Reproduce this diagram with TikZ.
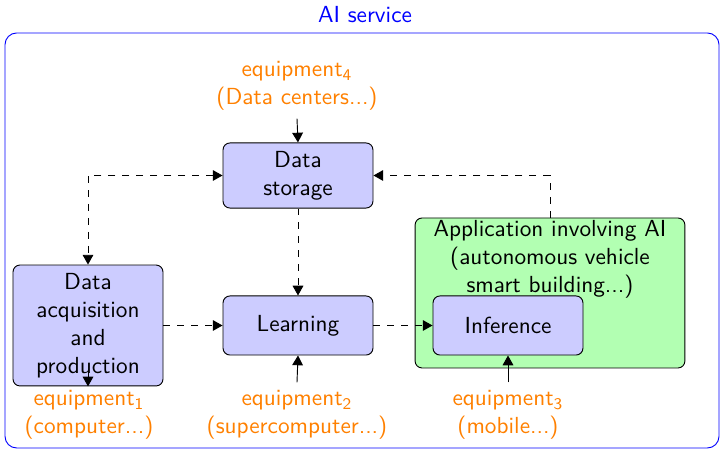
\documentclass[tikz,border=0pt]{standalone}
\usetikzlibrary{arrows.meta,positioning}
\renewcommand{\familydefault}{\sfdefault}

\tikzset{
  tip/.tip={Triangle[length=4.2pt, width=4.6pt]},
  block/.style={draw, fill=blue!20, rounded corners=3pt, align=center,
    minimum width=64.5pt, minimum height=25.4pt, inner sep=1pt},
  appbox/.style={draw, fill=green!30, rounded corners=3pt,
    minimum width=116pt, minimum height=64.5pt},
  equip/.style={text=orange, align=center},
  flow/.style={-tip, dashed},
  feed/.style={-tip}
}

\begin{document}
\begin{tikzpicture}[x=0.43pt, y=-0.43pt]
			% frame of the whole service
			\useasboundingbox (0,0) rectangle (720,450);
			\draw[blue, rounded corners=5pt] (5,33) rectangle (719,448);
			\node[blue] (service) at (365,15) {AI service};
			
			% application area
			\node[appbox] (app) at (550,293) {};
			\node[anchor=north, align=center, inner sep=1pt] (apptext) at (app.north)
				{Application involving AI\\(autonomous vehicle\\smart building...)};
			
			% processing blocks
			\node[block, minimum height=28pt] (storage) at (298,175.5) {Data\\storage};
			\node[block] (learning) at (298,325.5) {Learning};
			\node[block, minimum height=52pt] (acq) at (88,325.5) {Data\\acquisition\\and\\production};
			\node[block] (inference) at (508,325.5) {Inference};
			
			% equipment
			\node[equip] (eq4) at (297,86) {equipment\textsubscript{4}\\(Data centers...)};
			\node[equip] (eq1) at (89,415) {equipment\textsubscript{1}\\(computer...)};
			\node[equip] (eq2) at (297,415) {equipment\textsubscript{2}\\(supercomputer...)};
			\node[equip] (eq3) at (508,415) {equipment\textsubscript{3}\\(mobile...)};
			
			% data flows
			\draw[tip-tip, dashed] (storage.west) -| (acq.north);
			\draw[flow] (storage.south) -- (learning.north);
			\draw[flow] (acq.east) -- (learning.west);
			\draw[flow] (learning.east) -- (inference.west);
			\draw[flow] (app.north) |- (storage.east);
			
			% equipment links
			\draw[feed] (eq4.south) -- (storage.north);
			\draw[feed] (eq2.north) -- (learning.south);
			\draw[feed] (eq3.north) -- (inference.south);
			\draw[feed] ([yshift=6pt]acq.south) -- (acq.south);
\end{tikzpicture}
\end{document}
